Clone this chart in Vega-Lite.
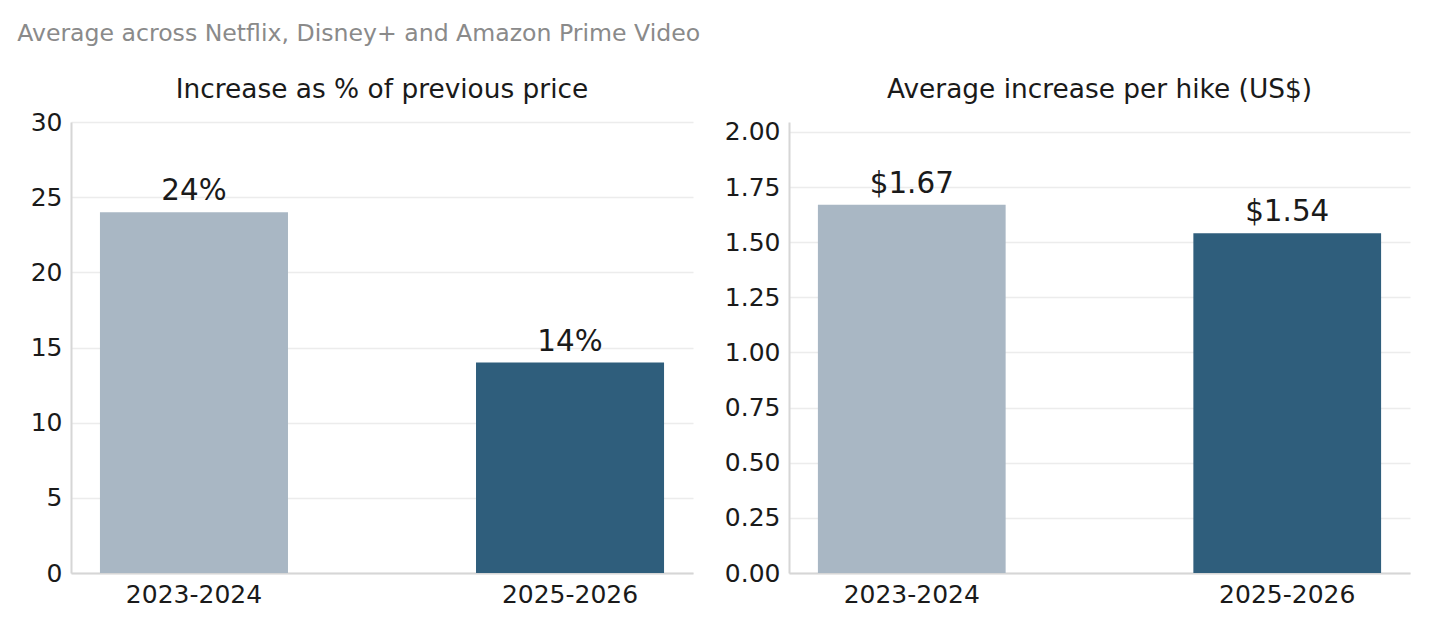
{
  "$schema": "https://vega.github.io/schema/vega-lite/v6.json",
  "padding": {"left": 17, "top": 21, "right": 20, "bottom": 5},
  "title": {
    "text": "Average across Netflix, Disney+ and Amazon Prime Video",
    "anchor": "start",
    "dx": -13,
    "fontSize": 23.6,
    "fontWeight": "normal",
    "color": "#8a8a8a",
    "offset": 31
  },
  "data": {
    "values": [
      {"period": "2023-2024", "pct": 24, "usd": 1.67, "pct_label": "24%", "usd_label": "$1.67"},
      {"period": "2025-2026", "pct": 14, "usd": 1.54, "pct_label": "14%", "usd_label": "$1.54"}
    ]
  },
  "spacing": 31,
  "config": {
    "font": "DejaVu Sans",
    "view": {"stroke": null},
    "axis": {
      "labelFont": "DejaVu Sans",
      "labelFontSize": 25,
      "labelColor": "#1a1a1a",
      "domainColor": "#d6d6d6",
      "domainWidth": 2,
      "gridColor": "#ececec",
      "gridWidth": 1.5,
      "ticks": false,
      "labelPadding": 9
    },
    "title": {"font": "DejaVu Sans"}
  },
  "hconcat": [
    {
      "width": 622,
      "height": 451,
      "title": {"text": "Increase as % of previous price", "fontSize": 26.4, "fontWeight": "normal", "color": "#1a1a1a", "offset": 7},
      "encoding": {
        "x": {
          "field": "period",
          "type": "nominal",
          "title": null,
          "scale": {"paddingInner": 0.5, "paddingOuter": 0.077},
          "axis": {"labelAngle": 0, "grid": false, "labelPadding": 9}
        },
        "y": {
          "field": "pct",
          "type": "quantitative",
          "title": null,
          "scale": {"domain": [0, 30], "nice": false},
          "axis": {"values": [0, 5, 10, 15, 20, 25, 30]}
        }
      },
      "layer": [
        {
          "mark": {"type": "bar"},
          "encoding": {
            "color": {
              "field": "period",
              "type": "nominal",
              "scale": {"domain": ["2023-2024", "2025-2026"], "range": ["#a9b7c4", "#2f5e7c"]},
              "legend": null
            }
          }
        },
        {
          "mark": {"type": "text", "baseline": "alphabetic", "dy": -12, "fontSize": 29.4, "color": "#1a1a1a"},
          "encoding": {"text": {"field": "pct_label"}}
        }
      ]
    },
    {
      "width": 621,
      "height": 451,
      "title": {"text": "Average increase per hike (US$)", "fontSize": 26.4, "fontWeight": "normal", "color": "#1a1a1a", "offset": 17},
      "encoding": {
        "x": {
          "field": "period",
          "type": "nominal",
          "title": null,
          "scale": {"paddingInner": 0.5, "paddingOuter": 0.077},
          "axis": {"labelAngle": 0, "grid": false, "labelPadding": 9}
        },
        "y": {
          "field": "usd",
          "type": "quantitative",
          "title": null,
          "scale": {"domain": [0, 2.045], "nice": false},
          "axis": {"values": [0, 0.25, 0.5, 0.75, 1, 1.25, 1.5, 1.75, 2], "format": ".2f"}
        }
      },
      "layer": [
        {
          "mark": {"type": "bar"},
          "encoding": {
            "color": {
              "field": "period",
              "type": "nominal",
              "scale": {"domain": ["2023-2024", "2025-2026"], "range": ["#a9b7c4", "#2f5e7c"]},
              "legend": null
            }
          }
        },
        {
          "mark": {"type": "text", "baseline": "alphabetic", "dy": -12, "fontSize": 29.4, "color": "#1a1a1a"},
          "encoding": {"text": {"field": "usd_label"}}
        }
      ]
    }
  ]
}
